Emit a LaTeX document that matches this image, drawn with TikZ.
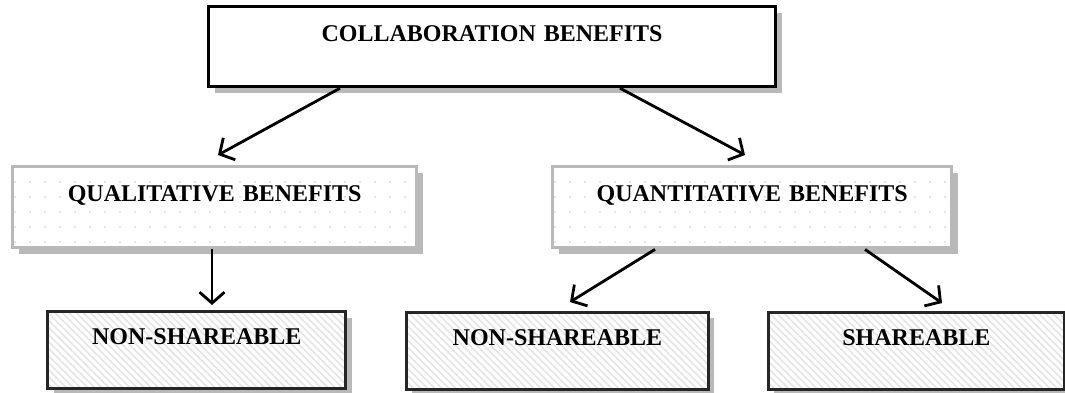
\documentclass[tikz,border=0pt]{standalone}
\usepackage{fontspec}
\setmainfont{Liberation Serif}
\usetikzlibrary{arrows.meta,patterns.meta,shadows,calc}
\begin{document}
\begin{tikzpicture}[x=1pt,y=-1pt,
  basebox/.style={rectangle, anchor=north west, inner sep=0pt, align=center,
    font=\fontsize{24}{27}\selectfont\bfseries},
  shad/.style={drop shadow={shadow xshift=6pt, shadow yshift=-6pt, opacity=1, fill=gray!55}},
  topbox/.style={basebox, shad, draw=black, line width=3.2pt, fill=white},
  midbox/.style={basebox, shad, preaction={fill=white}, draw=gray!55, line width=3.4pt,
    pattern={Dots[distance=15pt, radius=0.8pt]}, pattern color=gray!40},
  lowbox/.style={basebox, shad, preaction={fill=white}, draw=gray!30!black, line width=2.8pt,
    pattern={Lines[angle=-45, distance=5pt, line width=1.6pt]}, pattern color=gray!20},
  arr/.style={line width=2.8pt, -{Straight Barb[length=11pt, width=25pt, line width=2.8pt]}}
]
\useasboundingbox (0,0) rectangle (1065,392);
\fill[white] (0,0) rectangle (1065,392);

\node[topbox, text width=567pt, text height=35pt, text depth=45pt] (top) at (207,5) {COLLABORATION BENEFITS};

\node[midbox, text width=404pt, text height=35pt, text depth=46pt] (qual) at (11,165) {QUALITATIVE BENEFITS};
\node[midbox, text width=399pt, text height=35pt, text depth=46pt] (quant) at (551,165) {QUANTITATIVE BENEFITS};

\node[lowbox, text width=298pt, text height=33pt, text depth=44pt] (nl) at (47,311) {NON-SHAREABLE};
\node[lowbox, text width=302pt, text height=33pt, text depth=44pt] (nm) at (405,311) {NON-SHAREABLE};
\node[lowbox, text width=296pt, text height=33pt, text depth=44pt] (nr) at (767,311) {SHAREABLE};

\draw[arr] ($(top.south west)+(133,0)$) -- ($(qual.north west)+(207,-10)$);
\draw[arr] ($(top.south west)+(413,0)$) -- ($(quant.north west)+(194,-10)$);
\draw[arr] ($(qual.south west)+(201,0)$) -- ($(nl.north west)+(165,-6)$);
\draw[arr] ($(quant.south west)+(104,0)$) -- ($(nm.north west)+(165,-9)$);
\draw[arr] ($(quant.south west)+(314,0)$) -- ($(nr.north west)+(175,-8)$);
\end{tikzpicture}
\end{document}
